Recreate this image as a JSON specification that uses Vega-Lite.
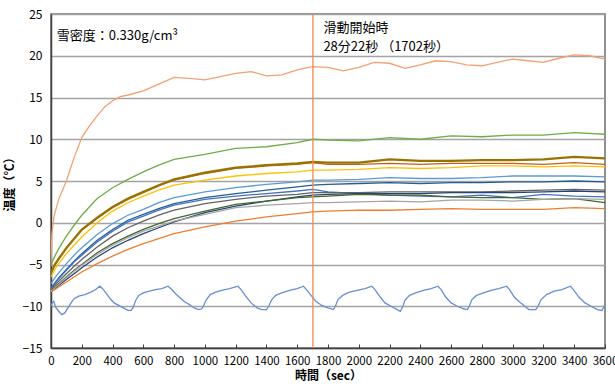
{
  "$schema": "https://vega.github.io/schema/vega-lite/v6.json",
  "width": 554,
  "height": 334,
  "autosize": "none",
  "padding": {"left": 51, "top": 14, "right": 10, "bottom": 40},
  "background": "white",
  "config": {
    "view": {"stroke": "#6e6e6e", "strokeWidth": 1.5},
    "font": "Noto Sans CJK JP",
    "axis": {"labelFont": "Noto Sans CJK JP", "titleFont": "Noto Sans CJK JP", "labelFontSize": 12, "titleFontSize": 12, "labelColor": "#000", "titleColor": "#000", "domainColor": "#404040", "domainWidth": 1.5},
    "axisX": {"labelOverlap": false, "labelFontSize": 11.5, "labelFlush": false, "format": "d"}
  },
  "datasets": {
    "series": [
      {"s":"s14","t":0,"v":-5.2},{"s":"s14","t":5,"v":-1.5},{"s":"s14","t":20,"v":0.8},{"s":"s14","t":50,"v":2.8},{"s":"s14","t":100,"v":5.0},{"s":"s14","t":150,"v":7.8},{"s":"s14","t":200,"v":10.2},{"s":"s14","t":250,"v":11.6},{"s":"s14","t":300,"v":12.8},{"s":"s14","t":350,"v":13.9},{"s":"s14","t":400,"v":14.6},{"s":"s14","t":450,"v":15.1},{"s":"s14","t":500,"v":15.3},{"s":"s14","t":600,"v":15.8},{"s":"s14","t":700,"v":16.6},{"s":"s14","t":800,"v":17.4},{"s":"s14","t":900,"v":17.3},{"s":"s14","t":1000,"v":17.1},{"s":"s14","t":1100,"v":17.5},{"s":"s14","t":1200,"v":17.9},{"s":"s14","t":1300,"v":18.1},{"s":"s14","t":1400,"v":17.6},{"s":"s14","t":1500,"v":17.7},{"s":"s14","t":1600,"v":18.3},{"s":"s14","t":1700,"v":18.7},{"s":"s14","t":1800,"v":18.6},{"s":"s14","t":1900,"v":18.2},{"s":"s14","t":2000,"v":18.6},{"s":"s14","t":2100,"v":19.2},{"s":"s14","t":2200,"v":19.1},{"s":"s14","t":2300,"v":18.5},{"s":"s14","t":2400,"v":18.9},{"s":"s14","t":2500,"v":19.4},{"s":"s14","t":2600,"v":19.3},{"s":"s14","t":2700,"v":18.9},{"s":"s14","t":2800,"v":18.8},{"s":"s14","t":2900,"v":19.2},{"s":"s14","t":3000,"v":19.6},{"s":"s14","t":3100,"v":19.4},{"s":"s14","t":3200,"v":19.2},{"s":"s14","t":3300,"v":19.7},{"s":"s14","t":3400,"v":20.1},{"s":"s14","t":3500,"v":20.0},{"s":"s14","t":3600,"v":19.6},

      {"s":"s6","t":0,"v":-5.0},{"s":"s6","t":25,"v":-4.0},{"s":"s6","t":50,"v":-3.1},{"s":"s6","t":100,"v":-1.6},{"s":"s6","t":150,"v":-0.3},{"s":"s6","t":200,"v":0.9},{"s":"s6","t":300,"v":2.9},{"s":"s6","t":400,"v":4.2},{"s":"s6","t":500,"v":5.2},{"s":"s6","t":600,"v":6.1},{"s":"s6","t":700,"v":6.9},{"s":"s6","t":800,"v":7.6},{"s":"s6","t":1000,"v":8.2},{"s":"s6","t":1200,"v":8.9},{"s":"s6","t":1400,"v":9.1},{"s":"s6","t":1600,"v":9.6},{"s":"s6","t":1700,"v":10.0},{"s":"s6","t":1800,"v":9.9},{"s":"s6","t":2000,"v":9.8},{"s":"s6","t":2200,"v":10.2},{"s":"s6","t":2400,"v":10.0},{"s":"s6","t":2600,"v":10.4},{"s":"s6","t":2800,"v":10.3},{"s":"s6","t":3000,"v":10.5},{"s":"s6","t":3200,"v":10.5},{"s":"s6","t":3400,"v":10.8},{"s":"s6","t":3600,"v":10.6},

      {"s":"s8","t":0,"v":-6.1},{"s":"s8","t":25,"v":-5.1},{"s":"s8","t":50,"v":-4.4},{"s":"s8","t":100,"v":-3.1},{"s":"s8","t":150,"v":-2.0},{"s":"s8","t":200,"v":-0.9},{"s":"s8","t":300,"v":0.5},{"s":"s8","t":400,"v":1.8},{"s":"s8","t":500,"v":2.8},{"s":"s8","t":600,"v":3.6},{"s":"s8","t":700,"v":4.4},{"s":"s8","t":800,"v":5.1},{"s":"s8","t":1000,"v":5.9},{"s":"s8","t":1200,"v":6.5},{"s":"s8","t":1400,"v":6.8},{"s":"s8","t":1600,"v":7.0},{"s":"s8","t":1700,"v":7.2},{"s":"s8","t":1800,"v":7.0},{"s":"s8","t":2000,"v":7.0},{"s":"s8","t":2200,"v":7.1},{"s":"s8","t":2400,"v":7.0},{"s":"s8","t":2600,"v":7.1},{"s":"s8","t":2800,"v":7.1},{"s":"s8","t":3000,"v":7.1},{"s":"s8","t":3200,"v":7.0},{"s":"s8","t":3400,"v":7.2},{"s":"s8","t":3600,"v":7.0},

      {"s":"s10","t":0,"v":-6.0},{"s":"s10","t":25,"v":-5.0},{"s":"s10","t":50,"v":-4.3},{"s":"s10","t":100,"v":-3.0},{"s":"s10","t":150,"v":-1.9},{"s":"s10","t":200,"v":-0.8},{"s":"s10","t":300,"v":0.6},{"s":"s10","t":400,"v":1.9},{"s":"s10","t":500,"v":2.9},{"s":"s10","t":600,"v":3.7},{"s":"s10","t":700,"v":4.5},{"s":"s10","t":800,"v":5.2},{"s":"s10","t":1000,"v":6.0},{"s":"s10","t":1200,"v":6.6},{"s":"s10","t":1400,"v":6.9},{"s":"s10","t":1600,"v":7.1},{"s":"s10","t":1700,"v":7.3},{"s":"s10","t":1800,"v":7.2},{"s":"s10","t":2000,"v":7.2},{"s":"s10","t":2200,"v":7.6},{"s":"s10","t":2400,"v":7.4},{"s":"s10","t":2600,"v":7.4},{"s":"s10","t":2800,"v":7.5},{"s":"s10","t":3000,"v":7.5},{"s":"s10","t":3200,"v":7.6},{"s":"s10","t":3400,"v":7.9},{"s":"s10","t":3600,"v":7.7},

      {"s":"s4","t":0,"v":-6.5},{"s":"s4","t":25,"v":-5.6},{"s":"s4","t":50,"v":-4.9},{"s":"s4","t":100,"v":-3.7},{"s":"s4","t":150,"v":-2.7},{"s":"s4","t":200,"v":-1.7},{"s":"s4","t":300,"v":0.0},{"s":"s4","t":400,"v":1.4},{"s":"s4","t":500,"v":2.4},{"s":"s4","t":600,"v":3.2},{"s":"s4","t":700,"v":3.9},{"s":"s4","t":800,"v":4.5},{"s":"s4","t":1000,"v":5.1},{"s":"s4","t":1200,"v":5.6},{"s":"s4","t":1400,"v":5.9},{"s":"s4","t":1600,"v":6.1},{"s":"s4","t":1700,"v":6.3},{"s":"s4","t":1800,"v":6.3},{"s":"s4","t":2000,"v":6.4},{"s":"s4","t":2200,"v":6.6},{"s":"s4","t":2400,"v":6.5},{"s":"s4","t":2600,"v":6.6},{"s":"s4","t":2800,"v":6.8},{"s":"s4","t":3000,"v":6.8},{"s":"s4","t":3200,"v":6.7},{"s":"s4","t":3400,"v":6.8},{"s":"s4","t":3600,"v":6.7},

      {"s":"s5","t":0,"v":-7.3},{"s":"s5","t":25,"v":-6.6},{"s":"s5","t":50,"v":-6.0},{"s":"s5","t":100,"v":-4.9},{"s":"s5","t":150,"v":-3.9},{"s":"s5","t":200,"v":-3.0},{"s":"s5","t":300,"v":-1.4},{"s":"s5","t":400,"v":-0.1},{"s":"s5","t":500,"v":0.9},{"s":"s5","t":600,"v":1.6},{"s":"s5","t":700,"v":2.4},{"s":"s5","t":800,"v":3.0},{"s":"s5","t":1000,"v":3.7},{"s":"s5","t":1200,"v":4.2},{"s":"s5","t":1400,"v":4.6},{"s":"s5","t":1600,"v":4.9},{"s":"s5","t":1700,"v":5.1},{"s":"s5","t":1800,"v":5.1},{"s":"s5","t":2000,"v":5.2},{"s":"s5","t":2200,"v":5.4},{"s":"s5","t":2400,"v":5.3},{"s":"s5","t":2600,"v":5.3},{"s":"s5","t":2800,"v":5.4},{"s":"s5","t":3000,"v":5.6},{"s":"s5","t":3200,"v":5.6},{"s":"s5","t":3400,"v":5.6},{"s":"s5","t":3600,"v":5.5},

      {"s":"s11","t":0,"v":-7.8},{"s":"s11","t":25,"v":-7.2},{"s":"s11","t":50,"v":-6.6},{"s":"s11","t":100,"v":-5.6},{"s":"s11","t":150,"v":-4.6},{"s":"s11","t":200,"v":-3.7},{"s":"s11","t":300,"v":-2.1},{"s":"s11","t":400,"v":-0.8},{"s":"s11","t":500,"v":0.3},{"s":"s11","t":600,"v":1.0},{"s":"s11","t":700,"v":1.7},{"s":"s11","t":800,"v":2.3},{"s":"s11","t":1000,"v":3.0},{"s":"s11","t":1200,"v":3.5},{"s":"s11","t":1400,"v":3.9},{"s":"s11","t":1600,"v":4.3},{"s":"s11","t":1700,"v":4.5},{"s":"s11","t":1800,"v":4.6},{"s":"s11","t":2000,"v":4.7},{"s":"s11","t":2200,"v":4.8},{"s":"s11","t":2400,"v":4.7},{"s":"s11","t":2600,"v":4.8},{"s":"s11","t":2800,"v":4.8},{"s":"s11","t":3000,"v":4.9},{"s":"s11","t":3200,"v":4.9},{"s":"s11","t":3400,"v":5.0},{"s":"s11","t":3600,"v":4.9},

      {"s":"s1","t":0,"v":-7.9},{"s":"s1","t":25,"v":-7.3},{"s":"s1","t":50,"v":-6.7},{"s":"s1","t":100,"v":-5.7},{"s":"s1","t":150,"v":-4.7},{"s":"s1","t":200,"v":-3.9},{"s":"s1","t":300,"v":-2.3},{"s":"s1","t":400,"v":-1.0},{"s":"s1","t":500,"v":0.1},{"s":"s1","t":600,"v":0.8},{"s":"s1","t":700,"v":1.5},{"s":"s1","t":800,"v":2.1},{"s":"s1","t":1000,"v":2.8},{"s":"s1","t":1200,"v":3.2},{"s":"s1","t":1400,"v":3.5},{"s":"s1","t":1600,"v":3.8},{"s":"s1","t":1700,"v":4.0},{"s":"s1","t":1800,"v":3.7},{"s":"s1","t":2000,"v":3.5},{"s":"s1","t":2200,"v":3.3},{"s":"s1","t":2400,"v":3.2},{"s":"s1","t":2600,"v":3.1},{"s":"s1","t":2800,"v":3.3},{"s":"s1","t":3000,"v":3.0},{"s":"s1","t":3200,"v":3.4},{"s":"s1","t":3400,"v":3.2},{"s":"s1","t":3600,"v":3.1},

      {"s":"s9","t":0,"v":-8.0},{"s":"s9","t":25,"v":-7.5},{"s":"s9","t":50,"v":-7.0},{"s":"s9","t":100,"v":-6.1},{"s":"s9","t":150,"v":-5.2},{"s":"s9","t":200,"v":-4.4},{"s":"s9","t":300,"v":-2.9},{"s":"s9","t":400,"v":-1.6},{"s":"s9","t":500,"v":-0.6},{"s":"s9","t":600,"v":0.2},{"s":"s9","t":700,"v":0.9},{"s":"s9","t":800,"v":1.5},{"s":"s9","t":1000,"v":2.3},{"s":"s9","t":1200,"v":2.8},{"s":"s9","t":1400,"v":3.2},{"s":"s9","t":1600,"v":3.4},{"s":"s9","t":1700,"v":3.6},{"s":"s9","t":1800,"v":3.6},{"s":"s9","t":2000,"v":3.6},{"s":"s9","t":2200,"v":3.7},{"s":"s9","t":2400,"v":3.7},{"s":"s9","t":2600,"v":3.7},{"s":"s9","t":2800,"v":3.7},{"s":"s9","t":3000,"v":3.8},{"s":"s9","t":3200,"v":3.9},{"s":"s9","t":3400,"v":4.0},{"s":"s9","t":3600,"v":3.9},

      {"s":"s7","t":0,"v":-8.3},{"s":"s7","t":25,"v":-7.9},{"s":"s7","t":50,"v":-7.5},{"s":"s7","t":100,"v":-6.8},{"s":"s7","t":150,"v":-6.1},{"s":"s7","t":200,"v":-5.4},{"s":"s7","t":300,"v":-4.1},{"s":"s7","t":400,"v":-3.0},{"s":"s7","t":500,"v":-2.1},{"s":"s7","t":600,"v":-1.3},{"s":"s7","t":700,"v":-0.6},{"s":"s7","t":800,"v":0.1},{"s":"s7","t":1000,"v":1.2},{"s":"s7","t":1200,"v":2.0},{"s":"s7","t":1400,"v":2.6},{"s":"s7","t":1600,"v":3.1},{"s":"s7","t":1700,"v":3.3},{"s":"s7","t":1800,"v":3.4},{"s":"s7","t":2000,"v":3.5},{"s":"s7","t":2200,"v":3.5},{"s":"s7","t":2400,"v":3.5},{"s":"s7","t":2600,"v":3.6},{"s":"s7","t":2800,"v":3.6},{"s":"s7","t":3000,"v":3.6},{"s":"s7","t":3200,"v":3.7},{"s":"s7","t":3400,"v":3.8},{"s":"s7","t":3600,"v":3.7},

      {"s":"s12","t":0,"v":-8.1},{"s":"s12","t":25,"v":-7.7},{"s":"s12","t":50,"v":-7.3},{"s":"s12","t":100,"v":-6.5},{"s":"s12","t":150,"v":-5.7},{"s":"s12","t":200,"v":-5.0},{"s":"s12","t":300,"v":-3.6},{"s":"s12","t":400,"v":-2.5},{"s":"s12","t":500,"v":-1.6},{"s":"s12","t":600,"v":-0.8},{"s":"s12","t":700,"v":-0.1},{"s":"s12","t":800,"v":0.5},{"s":"s12","t":1000,"v":1.4},{"s":"s12","t":1200,"v":2.2},{"s":"s12","t":1400,"v":2.6},{"s":"s12","t":1600,"v":3.0},{"s":"s12","t":1700,"v":3.1},{"s":"s12","t":1800,"v":3.2},{"s":"s12","t":2000,"v":3.4},{"s":"s12","t":2200,"v":3.3},{"s":"s12","t":2400,"v":3.3},{"s":"s12","t":2600,"v":3.1},{"s":"s12","t":2800,"v":3.0},{"s":"s12","t":3000,"v":3.0},{"s":"s12","t":3200,"v":2.8},{"s":"s12","t":3400,"v":2.9},{"s":"s12","t":3600,"v":2.4},

      {"s":"s3","t":0,"v":-8.2},{"s":"s3","t":25,"v":-7.8},{"s":"s3","t":50,"v":-7.4},{"s":"s3","t":100,"v":-6.6},{"s":"s3","t":150,"v":-5.8},{"s":"s3","t":200,"v":-5.1},{"s":"s3","t":300,"v":-3.8},{"s":"s3","t":400,"v":-2.7},{"s":"s3","t":500,"v":-1.8},{"s":"s3","t":600,"v":-1.0},{"s":"s3","t":700,"v":-0.4},{"s":"s3","t":800,"v":0.2},{"s":"s3","t":1000,"v":1.0},{"s":"s3","t":1200,"v":1.8},{"s":"s3","t":1400,"v":2.1},{"s":"s3","t":1600,"v":2.3},{"s":"s3","t":1700,"v":2.4},{"s":"s3","t":1800,"v":2.4},{"s":"s3","t":2000,"v":2.5},{"s":"s3","t":2200,"v":2.6},{"s":"s3","t":2400,"v":2.5},{"s":"s3","t":2600,"v":2.7},{"s":"s3","t":2800,"v":2.7},{"s":"s3","t":3000,"v":2.6},{"s":"s3","t":3200,"v":2.8},{"s":"s3","t":3400,"v":2.9},{"s":"s3","t":3600,"v":2.8},

      {"s":"s2","t":0,"v":-8.3},{"s":"s2","t":25,"v":-8.0},{"s":"s2","t":50,"v":-7.7},{"s":"s2","t":100,"v":-7.1},{"s":"s2","t":150,"v":-6.5},{"s":"s2","t":200,"v":-5.9},{"s":"s2","t":300,"v":-4.9},{"s":"s2","t":400,"v":-4.0},{"s":"s2","t":500,"v":-3.2},{"s":"s2","t":600,"v":-2.5},{"s":"s2","t":700,"v":-1.9},{"s":"s2","t":800,"v":-1.3},{"s":"s2","t":1000,"v":-0.5},{"s":"s2","t":1200,"v":0.2},{"s":"s2","t":1400,"v":0.7},{"s":"s2","t":1600,"v":1.1},{"s":"s2","t":1700,"v":1.3},{"s":"s2","t":1800,"v":1.4},{"s":"s2","t":2000,"v":1.5},{"s":"s2","t":2200,"v":1.5},{"s":"s2","t":2400,"v":1.6},{"s":"s2","t":2600,"v":1.7},{"s":"s2","t":2800,"v":1.6},{"s":"s2","t":3000,"v":1.6},{"s":"s2","t":3200,"v":1.6},{"s":"s2","t":3400,"v":1.8},{"s":"s2","t":3600,"v":1.7},

      {"s":"s13","t":0,"v":-10.0},{"s":"s13","t":8,"v":-9.6},{"s":"s13","t":18,"v":-9.4},{"s":"s13","t":30,"v":-10.1},{"s":"s13","t":50,"v":-10.6},{"s":"s13","t":70,"v":-11.0},{"s":"s13","t":90,"v":-10.8},{"s":"s13","t":110,"v":-10.2},{"s":"s13","t":130,"v":-9.6},{"s":"s13","t":150,"v":-9.1},{"s":"s13","t":180,"v":-8.8},{"s":"s13","t":220,"v":-8.6},{"s":"s13","t":260,"v":-8.3},{"s":"s13","t":290,"v":-8.0},{"s":"s13","t":317,"v":-7.6},{"s":"s13","t":335,"v":-7.9},{"s":"s13","t":360,"v":-8.5},{"s":"s13","t":385,"v":-9.1},{"s":"s13","t":410,"v":-9.6},{"s":"s13","t":440,"v":-9.9},{"s":"s13","t":470,"v":-10.2},{"s":"s13","t":500,"v":-10.5},{"s":"s13","t":520,"v":-10.5},{"s":"s13","t":535,"v":-10.1},{"s":"s13","t":550,"v":-9.3},{"s":"s13","t":570,"v":-8.7},{"s":"s13","t":600,"v":-8.4},{"s":"s13","t":640,"v":-8.2},{"s":"s13","t":680,"v":-8.0},{"s":"s13","t":720,"v":-7.9},{"s":"s13","t":760,"v":-7.6},{"s":"s13","t":780,"v":-7.9},{"s":"s13","t":810,"v":-8.5},{"s":"s13","t":840,"v":-9.0},{"s":"s13","t":870,"v":-9.5},{"s":"s13","t":900,"v":-9.8},{"s":"s13","t":930,"v":-10.2},{"s":"s13","t":960,"v":-10.4},{"s":"s13","t":980,"v":-10.3},{"s":"s13","t":995,"v":-9.8},{"s":"s13","t":1010,"v":-9.2},{"s":"s13","t":1035,"v":-8.6},{"s":"s13","t":1070,"v":-8.3},{"s":"s13","t":1110,"v":-8.1},{"s":"s13","t":1160,"v":-7.9},{"s":"s13","t":1215,"v":-7.6},{"s":"s13","t":1235,"v":-8.0},{"s":"s13","t":1265,"v":-8.8},{"s":"s13","t":1300,"v":-9.6},{"s":"s13","t":1340,"v":-10.2},{"s":"s13","t":1370,"v":-10.4},{"s":"s13","t":1400,"v":-10.4},{"s":"s13","t":1415,"v":-10.0},{"s":"s13","t":1435,"v":-9.2},{"s":"s13","t":1460,"v":-8.7},{"s":"s13","t":1500,"v":-8.4},{"s":"s13","t":1550,"v":-8.1},{"s":"s13","t":1600,"v":-7.9},{"s":"s13","t":1640,"v":-7.6},{"s":"s13","t":1660,"v":-8.0},{"s":"s13","t":1690,"v":-8.7},{"s":"s13","t":1720,"v":-9.4},{"s":"s13","t":1760,"v":-9.9},{"s":"s13","t":1800,"v":-10.2},{"s":"s13","t":1835,"v":-10.4},{"s":"s13","t":1848,"v":-10.0},{"s":"s13","t":1865,"v":-9.2},{"s":"s13","t":1895,"v":-8.7},{"s":"s13","t":1940,"v":-8.3},{"s":"s13","t":1990,"v":-8.1},{"s":"s13","t":2040,"v":-7.9},{"s":"s13","t":2085,"v":-7.6},{"s":"s13","t":2105,"v":-8.0},{"s":"s13","t":2135,"v":-8.8},{"s":"s13","t":2170,"v":-9.6},{"s":"s13","t":2210,"v":-10.0},{"s":"s13","t":2250,"v":-10.4},{"s":"s13","t":2270,"v":-10.6},{"s":"s13","t":2285,"v":-10.1},{"s":"s13","t":2300,"v":-9.3},{"s":"s13","t":2330,"v":-8.7},{"s":"s13","t":2370,"v":-8.4},{"s":"s13","t":2420,"v":-8.1},{"s":"s13","t":2470,"v":-7.9},{"s":"s13","t":2515,"v":-7.6},{"s":"s13","t":2535,"v":-8.0},{"s":"s13","t":2565,"v":-8.9},{"s":"s13","t":2600,"v":-9.6},{"s":"s13","t":2640,"v":-10.0},{"s":"s13","t":2680,"v":-10.3},{"s":"s13","t":2705,"v":-10.4},{"s":"s13","t":2718,"v":-10.0},{"s":"s13","t":2735,"v":-9.2},{"s":"s13","t":2765,"v":-8.7},{"s":"s13","t":2810,"v":-8.4},{"s":"s13","t":2860,"v":-8.1},{"s":"s13","t":2910,"v":-7.9},{"s":"s13","t":2960,"v":-7.6},{"s":"s13","t":2980,"v":-8.0},{"s":"s13","t":3010,"v":-8.9},{"s":"s13","t":3045,"v":-9.5},{"s":"s13","t":3080,"v":-10.0},{"s":"s13","t":3105,"v":-10.4},{"s":"s13","t":3150,"v":-10.4},{"s":"s13","t":3165,"v":-10.0},{"s":"s13","t":3185,"v":-9.2},{"s":"s13","t":3220,"v":-8.6},{"s":"s13","t":3270,"v":-8.2},{"s":"s13","t":3320,"v":-8.0},{"s":"s13","t":3375,"v":-7.6},{"s":"s13","t":3395,"v":-8.0},{"s":"s13","t":3430,"v":-8.9},{"s":"s13","t":3470,"v":-9.6},{"s":"s13","t":3510,"v":-10.0},{"s":"s13","t":3550,"v":-10.4},{"s":"s13","t":3580,"v":-10.5},{"s":"s13","t":3595,"v":-10.0},{"s":"s13","t":3600,"v":-9.6}
    ],
    "marker": [{"t": 1702}],
    "notes": [
      {"t": 37, "v": 22.4, "label": "雪密度：0.330g/cm³"},
      {"t": 1770, "v": 23.3, "label": "滑動開始時"},
      {"t": 1770, "v": 21.0, "label": "28分22秒 （1702秒）"}
    ]
  },
  "encoding": {
    "x": {"field": "t", "type": "quantitative", "scale": {"domain": [0, 3600], "nice": false},
          "axis": {"values": [0,200,400,600,800,1000,1200,1400,1600,1800,2000,2200,2400,2600,2800,3000,3200,3400,3600],
                   "format": "d", "labelOverlap": false, "labelFontSize": 11.5,
                   "title": "時間（sec）", "titleFontWeight": "bold", "grid": false, "tickColor": "#404040", "tickSize": -4, "labelPadding": 11, "titlePadding": 4, "labelFlush": false}}
  },
  "layer": [
    {
      "data": {"name": "series"},
      "mark": {"type": "line", "clip": true},
      "encoding": {
        "y": {"field": "v", "type": "quantitative", "scale": {"domain": [-15, 25], "nice": false},
              "axis": {"values": [-15,-10,-5,0,5,10,15,20,25], "title": "温度（℃）", "titleFontWeight": "bold", "grid": true, "gridColor": "#a3a3a3", "gridWidth": 1.5, "ticks": false, "labelPadding": 9, "titlePadding": 6}},
        "color": {"field": "s", "type": "nominal", "legend": null,
                  "scale": {"domain": ["s1","s2","s3","s4","s5","s6","s7","s8","s9","s10","s11","s12","s13","s14"],
                            "range": ["#4472C4","#ED7D31","#A5A5A5","#FFC000","#5B9BD5","#70AD47","#264478","#C0601C","#636363","#997300","#255E91","#43682B","#698ED0","#F4A070"]}},
        "strokeWidth": {"condition": {"test": "datum.s === 's10'", "value": 2.2}, "value": 1.3},
        "order": {"field": "t", "type": "quantitative"}
      }
    },
    {
      "data": {"name": "marker"},
      "mark": {"type": "rule", "color": "#EE8A50", "strokeWidth": 1.3},
      "encoding": {}
    },
    {
      "data": {"name": "notes"},
      "mark": {"type": "text", "align": "left", "baseline": "middle", "fontSize": 13, "font": "Noto Sans CJK JP", "color": "#000"},
      "encoding": {
        "y": {"field": "v", "type": "quantitative"},
        "text": {"field": "label"}
      }
    }
  ]
}
